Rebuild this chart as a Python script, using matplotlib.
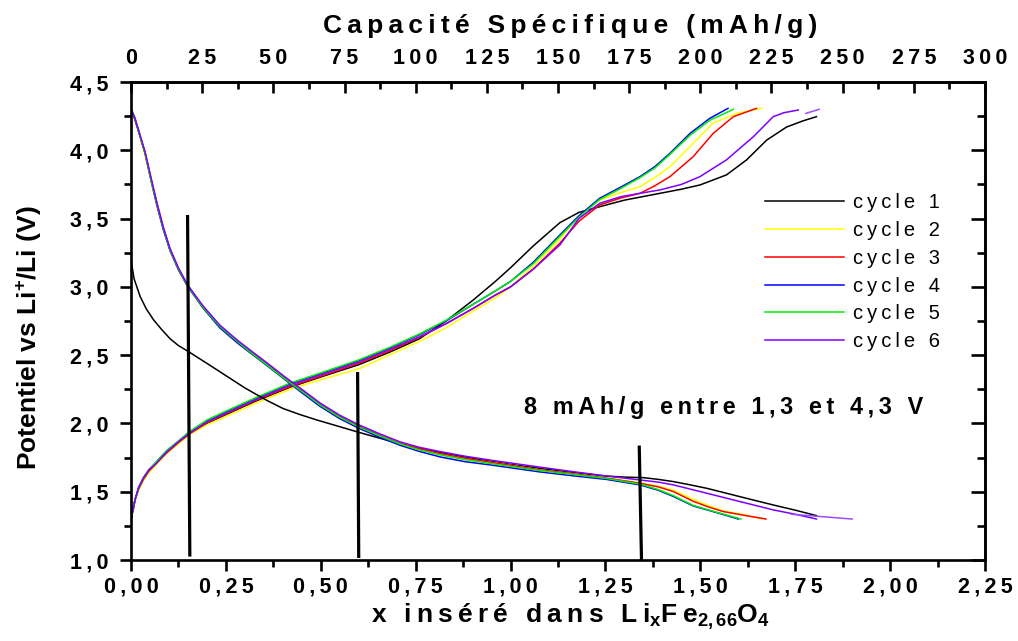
import matplotlib
matplotlib.use('Agg')
import matplotlib.pyplot as plt
from matplotlib.ticker import MultipleLocator, FixedLocator, FuncFormatter

plt.rcParams['font.family'] = ['Liberation Sans', 'DejaVu Sans']
plt.rcParams['font.weight'] = 'bold'
plt.rcParams['mathtext.fontset'] = 'custom'
plt.rcParams['mathtext.rm'] = 'Liberation Sans'
plt.rcParams['mathtext.bf'] = 'Liberation Sans:bold'
plt.rcParams['mathtext.it'] = 'Liberation Sans:italic'

# x -> capacité (mAh/g)
CAP_PER_X = 300 / 2.25

labels = ['cycle 1', 'cycle 2', 'cycle 3', 'cycle 4', 'cycle 5', 'cycle 6']
colors = ['#000000', '#ffff00', '#ff0000', '#0000ff', '#00ee00', '#7f00ff']
cap_ticks = [0, 25, 50, 75, 100, 125, 150, 175, 200, 225, 250, 275, 300]

# ---- décharge (insertion) ----
dis_x1 = [0.0, 0.008, 0.024, 0.04, 0.059, 0.08, 0.103, 0.125, 0.149, 0.2, 0.25, 0.3, 0.357,
          0.4, 0.445, 0.49, 0.533, 0.6, 0.709, 0.78, 0.85, 0.92, 1.0, 1.08, 1.15, 1.25, 1.3,
          1.35, 1.39, 1.429, 1.47, 1.517, 1.56, 1.604, 1.65, 1.692, 1.75, 1.806]
dis_v1 = [3.20, 3.06, 2.93, 2.84, 2.76, 2.69, 2.62, 2.57, 2.53, 2.44, 2.35, 2.26, 2.17,
          2.11, 2.065, 2.025, 1.99, 1.935, 1.85, 1.805, 1.77, 1.735, 1.70, 1.67, 1.645, 1.615, 1.607,
          1.603, 1.59, 1.574, 1.552, 1.525, 1.495, 1.464, 1.432, 1.403, 1.365, 1.325]

# cycles 2 à 6 : partie commune en x jusqu'à 1,341
dis_front_x = [0.0, 0.01, 0.022, 0.037, 0.052, 0.068, 0.085, 0.103, 0.125, 0.149, 0.19,
               0.234, 0.28, 0.322, 0.36, 0.406, 0.45, 0.498, 0.55, 0.6, 0.65, 0.709, 0.76,
               0.814, 0.88, 0.95, 1.077, 1.17, 1.253, 1.341]
dis_front_v2 = [4.28, 4.22, 4.11, 3.96, 3.78, 3.59, 3.42, 3.26, 3.12, 3.00, 2.84,
                2.70, 2.59, 2.50, 2.42, 2.32, 2.23, 2.13, 2.04, 1.975, 1.915, 1.85, 1.81,
                1.775, 1.74, 1.715, 1.66, 1.63, 1.60, 1.565]
dis_front_v3 = [4.30, 4.23, 4.12, 3.98, 3.80, 3.61, 3.43, 3.27, 3.13, 3.01, 2.85,
                2.71, 2.60, 2.51, 2.43, 2.33, 2.24, 2.14, 2.05, 1.98, 1.92, 1.855, 1.815,
                1.78, 1.745, 1.715, 1.66, 1.63, 1.60, 1.562]
dis_front_v4 = [4.30, 4.23, 4.12, 3.98, 3.79, 3.60, 3.42, 3.265, 3.125, 3.005, 2.845,
                2.70, 2.59, 2.50, 2.42, 2.32, 2.225, 2.125, 2.035, 1.965, 1.905, 1.84, 1.795,
                1.755, 1.72, 1.695, 1.645, 1.615, 1.59, 1.55]
dis_front_v5 = [4.31, 4.24, 4.12, 3.98, 3.79, 3.61, 3.43, 3.27, 3.13, 3.01, 2.85,
                2.71, 2.60, 2.505, 2.425, 2.325, 2.235, 2.135, 2.045, 1.975, 1.915, 1.85, 1.805,
                1.77, 1.735, 1.705, 1.655, 1.625, 1.597, 1.556]
dis_front_v6 = [4.30, 4.24, 4.13, 3.99, 3.81, 3.62, 3.44, 3.28, 3.14, 3.015, 2.86,
                2.72, 2.61, 2.52, 2.44, 2.34, 2.25, 2.15, 2.06, 1.99, 1.93, 1.865, 1.825,
                1.794, 1.76, 1.73, 1.68, 1.645, 1.615, 1.586]

dis_tail_x2 = [1.39, 1.43, 1.481, 1.52, 1.56, 1.61, 1.665]
dis_tail_v2 = [1.54, 1.51, 1.445, 1.40, 1.36, 1.335, 1.30]
dis_tail_x3 = [1.39, 1.43, 1.481, 1.52, 1.56, 1.61, 1.673]
dis_tail_v3 = [1.535, 1.50, 1.43, 1.39, 1.355, 1.33, 1.30]
dis_tail_x4 = [1.39, 1.43, 1.481, 1.534, 1.57, 1.60]
dis_tail_v4 = [1.51, 1.464, 1.396, 1.354, 1.325, 1.30]
dis_tail_x5 = [1.39, 1.43, 1.481, 1.534, 1.575, 1.607]
dis_tail_v5 = [1.515, 1.47, 1.40, 1.357, 1.325, 1.30]
dis_tail_x6 = [1.39, 1.429, 1.517, 1.604, 1.692, 1.75, 1.806]
dis_tail_v6 = [1.57, 1.55, 1.489, 1.428, 1.367, 1.335, 1.30]
dis_x6b = [1.74, 1.90]
dis_v6b = [1.335, 1.30]

# ---- charge (désinsertion) ----
ch_front_x = [0.0, 0.003, 0.006, 0.0105, 0.02, 0.0325, 0.047, 0.064, 0.094, 0.125, 0.155,
              0.2, 0.25, 0.33, 0.419, 0.5, 0.6, 0.68, 0.76, 0.83, 0.9, 0.96, 1.0, 1.06, 1.13]
ch_front_v1 = [1.29, 1.34, 1.37, 1.44, 1.52, 1.59, 1.65, 1.70, 1.785, 1.86, 1.925,
               2.0, 2.065, 2.165, 2.265, 2.34, 2.43, 2.52, 2.62, 2.75, 2.90, 3.04, 3.14, 3.30, 3.47]
ch_front_v2 = [1.29, 1.33, 1.37, 1.43, 1.51, 1.58, 1.64, 1.69, 1.78, 1.85, 1.92,
               1.99, 2.05, 2.15, 2.25, 2.32, 2.40, 2.50, 2.60, 2.70, 2.82, 2.92, 3.00, 3.15, 3.35]
ch_front_v3 = [1.29, 1.34, 1.37, 1.44, 1.52, 1.59, 1.65, 1.70, 1.785, 1.86, 1.925,
               2.005, 2.07, 2.17, 2.27, 2.345, 2.44, 2.53, 2.63, 2.73, 2.84, 2.94, 3.00, 3.13, 3.32]
ch_front_v4 = [1.29, 1.34, 1.38, 1.44, 1.53, 1.60, 1.66, 1.71, 1.80, 1.87, 1.94,
               2.02, 2.085, 2.185, 2.29, 2.365, 2.46, 2.55, 2.65, 2.75, 2.87, 2.97, 3.04, 3.18, 3.38]
ch_front_v5 = [1.29, 1.34, 1.38, 1.44, 1.53, 1.60, 1.66, 1.71, 1.80, 1.87, 1.94,
               2.025, 2.09, 2.19, 2.295, 2.37, 2.465, 2.555, 2.655, 2.755, 2.87, 2.97, 3.04, 3.17, 3.37]
ch_front_v6 = [1.29, 1.34, 1.38, 1.44, 1.53, 1.60, 1.66, 1.70, 1.79, 1.865, 1.93,
               2.01, 2.075, 2.175, 2.28, 2.355, 2.45, 2.54, 2.635, 2.73, 2.84, 2.94, 3.00, 3.13, 3.307]

ch_tail_x1 = [1.18, 1.235, 1.30, 1.394, 1.45, 1.499, 1.569, 1.622, 1.675, 1.727, 1.77, 1.806]
ch_tail_v1 = [3.545, 3.587, 3.635, 3.685, 3.715, 3.746, 3.82, 3.93, 4.075, 4.17, 4.215, 4.246]
ch_tail_x2 = [1.18, 1.235, 1.29, 1.341, 1.38, 1.42, 1.481, 1.534, 1.596, 1.661]
ch_tail_v2 = [3.52, 3.636, 3.69, 3.734, 3.80, 3.88, 4.05, 4.20, 4.27, 4.307]
ch_tail_x3 = [1.18, 1.235, 1.29, 1.341, 1.38, 1.42, 1.481, 1.534, 1.587, 1.648]
ch_tail_v3 = [3.48, 3.60, 3.65, 3.685, 3.74, 3.807, 3.953, 4.124, 4.246, 4.307]
ch_tail_x4 = [1.18, 1.235, 1.29, 1.341, 1.38, 1.42, 1.473, 1.525, 1.573]
ch_tail_v4 = [3.52, 3.649, 3.73, 3.807, 3.88, 3.978, 4.124, 4.234, 4.307]
ch_tail_x5 = [1.18, 1.235, 1.29, 1.341, 1.38, 1.42, 1.473, 1.525, 1.587]
ch_tail_v5 = [3.51, 3.64, 3.72, 3.80, 3.87, 3.97, 4.11, 4.22, 4.30]
ch_tail_x6 = [1.18, 1.235, 1.29, 1.341, 1.394, 1.45, 1.499, 1.569, 1.64, 1.692, 1.72, 1.758]
ch_tail_v6 = [3.50, 3.612, 3.66, 3.685, 3.71, 3.75, 3.807, 3.93, 4.10, 4.246, 4.275, 4.295]
ch_x6b = [1.778, 1.813]
ch_v6b = [4.27, 4.30]

dis_x = [dis_x1] + [dis_front_x + t for t in
                    (dis_tail_x2, dis_tail_x3, dis_tail_x4, dis_tail_x5, dis_tail_x6)]
dis_v = [dis_v1] + [f + t for f, t in zip(
    (dis_front_v2, dis_front_v3, dis_front_v4, dis_front_v5, dis_front_v6),
    (dis_tail_v2, dis_tail_v3, dis_tail_v4, dis_tail_v5, dis_tail_v6))]
ch_x = [ch_front_x + t for t in
        (ch_tail_x1, ch_tail_x2, ch_tail_x3, ch_tail_x4, ch_tail_x5, ch_tail_x6)]
ch_v = [f + t for f, t in zip(
    (ch_front_v1, ch_front_v2, ch_front_v3, ch_front_v4, ch_front_v5, ch_front_v6),
    (ch_tail_v1, ch_tail_v2, ch_tail_v3, ch_tail_v4, ch_tail_v5, ch_tail_v6))]

# traits verticaux (x bas, x haut, V bas, V haut)
mark_x0 = [0.155, 0.600, 1.345]
mark_x1 = [0.149, 0.597, 1.339]
mark_v0 = [1.025, 1.015, 1.0]
mark_v1 = [3.526, 2.377, 1.838]


def spaced(s):
    return '\u2009'.join(s)


def comma_fmt(nd):
    return FuncFormatter(lambda v, p: spaced(f'{v:.{nd}f}'.replace('.', ',')))


fig = plt.figure(figsize=(10.18, 6.41), dpi=100)
ax = fig.add_axes([131 / 1018, 1 - 560 / 641, 854 / 1018, 478 / 641])

for i in range(6):
    ax.plot(ch_x[i], ch_v[i], color=colors[i], lw=1.1)
for i in range(6):
    ax.plot(dis_x[i], dis_v[i], color=colors[i], lw=1.1, label=labels[i])
ax.plot(dis_x6b, dis_v6b, color='#9a4dff', lw=1.1)
ax.plot(ch_x6b, ch_v6b, color='#9a4dff', lw=1.1)

for a, b, c, d in zip(mark_x0, mark_x1, mark_v0, mark_v1):
    ax.plot([a, b], [c, d], color='black', lw=2.3, solid_capstyle='butt')

ax.set_xlim(0, 2.25)
ax.set_ylim(1.0, 4.5)

for sp in ax.spines.values():
    sp.set_linewidth(1.9)

ax.xaxis.set_major_locator(MultipleLocator(0.25))
ax.xaxis.set_minor_locator(MultipleLocator(0.125))
ax.yaxis.set_major_locator(MultipleLocator(0.5))
ax.yaxis.set_minor_locator(MultipleLocator(0.25))
ax.xaxis.set_major_formatter(comma_fmt(2))
ax.yaxis.set_major_formatter(comma_fmt(1))
ax.tick_params(which='major', direction='out', length=8, width=1.9, labelsize=15.5)
ax.tick_params(which='minor', direction='out', length=5, width=1.9)
ax.tick_params(axis='x', pad=4)
ax.tick_params(axis='y', pad=8)

# axe du haut : capacité spécifique
top = ax.secondary_xaxis('top', functions=(lambda x: x * CAP_PER_X, lambda c: c / CAP_PER_X))
top.xaxis.set_major_locator(FixedLocator(cap_ticks))
top.xaxis.set_minor_locator(MultipleLocator(12.5))
top.xaxis.set_major_formatter(FuncFormatter(lambda v, p: spaced(f'{v:.0f}')))
top.tick_params(which='major', direction='in', length=8, width=1.9, labelsize=15.5, pad=9)
top.tick_params(which='minor', direction='in', length=5, width=1.9)
top.spines['top'].set_linewidth(1.9)

right = ax.secondary_yaxis('right')
right.yaxis.set_major_locator(MultipleLocator(0.5))
right.yaxis.set_minor_locator(MultipleLocator(0.25))
right.tick_params(which='major', direction='in', length=10, width=1.9, labelright=False)
right.tick_params(which='minor', direction='in', length=6, width=1.9)
right.spines['right'].set_linewidth(1.9)

leg = ax.legend(loc='upper left', bbox_to_anchor=(765 / 1018, 1 - 193 / 641),
                bbox_transform=fig.transFigure, frameon=False, borderpad=0,
                borderaxespad=0, handlelength=3.9, handletextpad=0.45,
                labelspacing=0.44, prop={'size': 14.5, 'weight': 'normal'})
for t in leg.get_texts():
    t.set_text(spaced(t.get_text()))

ax.text(1.562, 2.12, spaced('8 mAh/g entre 1,3 et 4,3 V'), fontsize=16.8,
        fontweight='bold', ha='center', va='center')

fig.text(570 / 1018, 1 - 26 / 641, spaced('Capacité Spécifique (mAh/g)'),
         fontsize=19, fontweight='bold', ha='center', va='center')
fig.text(570 / 1018, 1 - 623 / 641,
         spaced('x inséré dans Li') + r'$_{\mathbf{x}}$' + spaced('Fe')
         + r'$_{\mathbf{2,66}}$' + 'O' + r'$_{\mathbf{4}}$',
         fontsize=19, fontweight='bold', ha='center', va='baseline')
fig.text(29 / 1018, 1 - 338 / 641, r'Potentiel vs Li$^{\mathbf{+}}$/Li (V)',
         fontsize=19, fontweight='bold', rotation=90, ha='center', va='center')

fig.savefig('out.png', dpi=100)
